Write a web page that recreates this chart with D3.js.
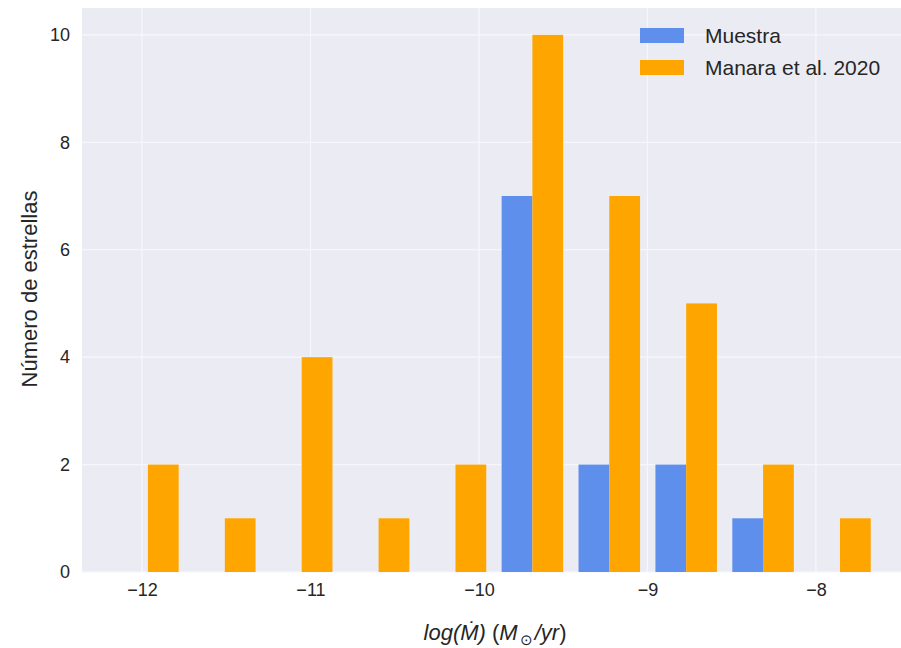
<!DOCTYPE html>
<html>
<head>
<meta charset="utf-8">
<script src="https://cdn.jsdelivr.net/npm/d3@7"></script>
<style>
body { margin: 0; background: #fff; }
text { font-family: "Liberation Sans", Arial, sans-serif; fill: #262626; }
</style>
</head>
<body>
<svg id="chart" width="901" height="648"></svg>
<script>
// histogram bins (log Mdot), counts per bin
var binStart = -12.193;
var binWidth = 0.4564;
var muestra = [0, 0, 0, 0, 0, 7, 2, 2, 1, 0];
var manara = [2, 1, 4, 1, 2, 10, 7, 5, 2, 1];
var seriesNames = ['Muestra', 'Manara et al. 2020'];
var seriesColors = ['#5f8fec', '#ffa500'];
var xTicks = [-12, -11, -10, -9, -8];
var yTicks = [0, 2, 4, 6, 8, 10];

var svg = d3.select('#chart');
var pLeft = 82, pRight = 901, pTop = 8, pBottom = 572;

var x = d3.scaleLinear().domain([-12.356, -7.495]).range([pLeft, pRight]);
var y = d3.scaleLinear().domain([0, 10.5]).range([pBottom, pTop]);

svg.append('rect')
    .attr('x', pLeft).attr('y', pTop)
    .attr('width', pRight - pLeft).attr('height', pBottom - pTop)
    .attr('fill', '#ebebf3');

// grid
svg.append('g').selectAll('line').data(xTicks).enter().append('line')
    .attr('x1', function(d) { return x(d); }).attr('x2', function(d) { return x(d); })
    .attr('y1', pTop).attr('y2', pBottom)
    .attr('stroke', '#f7f7fb').attr('stroke-width', 1.2);
svg.append('g').selectAll('line').data(yTicks).enter().append('line')
    .attr('y1', function(d) { return y(d); }).attr('y2', function(d) { return y(d); })
    .attr('x1', pLeft).attr('x2', pRight)
    .attr('stroke', '#f7f7fb').attr('stroke-width', 1.2);

// bars: two datasets side by side in each bin
var barW = binWidth * 0.8 / 2;
[muestra, manara].forEach(function(counts, k) {
    var g = svg.append('g');
    counts.forEach(function(c, i) {
        if (c <= 0) return;
        var x0 = binStart + i * binWidth + binWidth * 0.1 + k * barW;
        g.append('rect')
            .attr('x', x(x0))
            .attr('width', x(x0 + barW) - x(x0))
            .attr('y', y(c))
            .attr('height', y(0) - y(c))
            .attr('fill', seriesColors[k]);
    });
});

// axes
var xAxis = d3.axisBottom(x).tickValues(xTicks).tickSize(0).tickPadding(11)
    .tickFormat(function(d) { return d3.format('d')(d).replace('-', '\u2212'); });
var yAxis = d3.axisLeft(y).tickValues(yTicks).tickSize(0).tickPadding(12);
var gx = svg.append('g').attr('transform', 'translate(0,' + pBottom + ')').call(xAxis);
var gy = svg.append('g').attr('transform', 'translate(' + pLeft + ',0)').call(yAxis);
[gx, gy].forEach(function(g) {
    g.select('.domain').remove();
    g.selectAll('text').style('font-size', '18px').style('fill', '#262626')
        .style('font-family', '"Liberation Sans", Arial, sans-serif');
});

// labels
svg.append('text')
    .attr('transform', 'translate(37,' + 289 + ') rotate(-90)')
    .attr('text-anchor', 'middle')
    .style('font-size', '22px')
    .text('Número de estrellas');

var xl = svg.append('text')
    .attr('x', 495).attr('y', 640)
    .attr('text-anchor', 'middle')
    .style('font-size', '22px');
xl.append('tspan').style('font-style', 'italic').text('log(Ṁ)');
xl.append('tspan').text('  (');
xl.append('tspan').style('font-style', 'italic').text('M');
xl.append('tspan').attr('dy', 5).attr('dx', 2).style('font-size', '15px').text('\u2299');
xl.append('tspan').attr('dy', -5).attr('dx', 2).style('font-style', 'italic').text('/yr');
xl.append('tspan').text(')');

// legend
var lg = svg.append('g').attr('transform', 'translate(640,28)');
seriesNames.forEach(function(name, k) {
    lg.append('rect').attr('x', 0).attr('y', k * 32)
        .attr('width', 44).attr('height', 15)
        .attr('fill', seriesColors[k]);
    lg.append('text').attr('x', 65).attr('y', k * 32 + 15)
        .style('font-size', '21px')
        .text(name);
});
</script>
</body>
</html>
